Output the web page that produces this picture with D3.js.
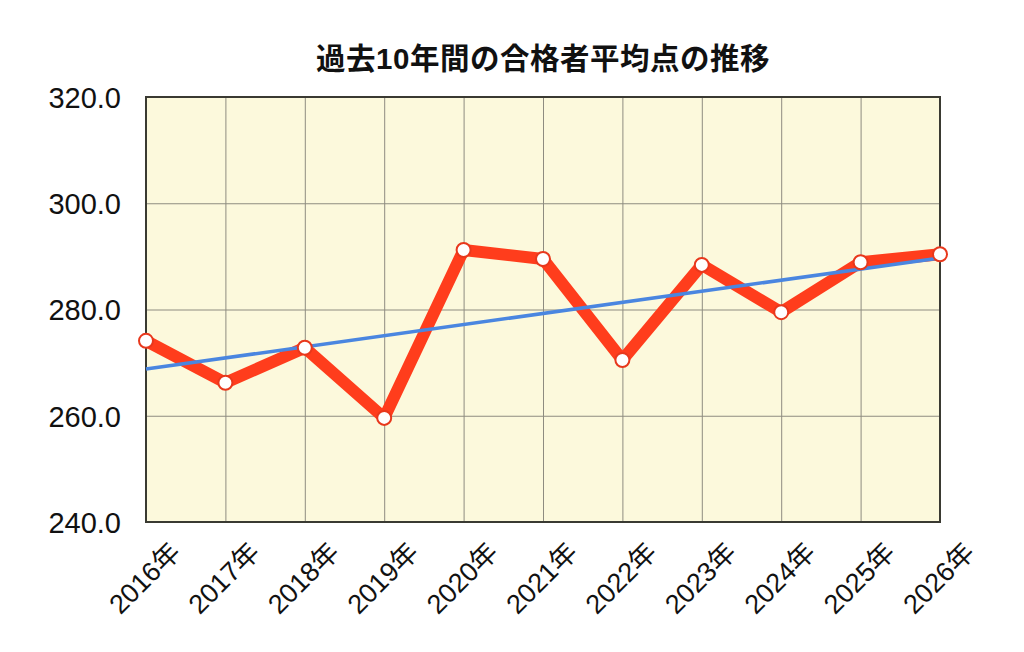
<!DOCTYPE html>
<html><head><meta charset="utf-8">
<script src="https://cdn.jsdelivr.net/npm/d3@7"></script>
<style>
html,body{margin:0;padding:0;background:#fff;}
svg{display:block;}
</style>
</head><body>
<script>
const title = "過去10年間の合格者平均点の推移";
const years = ["2016年","2017年","2018年","2019年","2020年","2021年","2022年","2023年","2024年","2025年","2026年"];
const scores = [274.1, 266.2, 272.8, 259.6, 291.2, 289.5, 270.5, 288.4, 279.5, 288.9, 290.4];
const trendYears = ["2016年","2026年"];
const trendValues = [268.8, 289.7];
const yTicks = [240, 260, 280, 300, 320];

const W = 1024, H = 652;
const m = {left:146, right:84, top:97, bottom:130};
const svg = d3.select("body").append("svg").attr("width", W).attr("height", H);
const font = "'Liberation Sans','Noto Sans CJK JP',sans-serif";

const x = d3.scalePoint().domain(years).range([m.left, W - m.right]);
const y = d3.scaleLinear().domain([240, 320]).range([H - m.bottom, m.top]);

// background
svg.append("rect").attr("x", m.left).attr("y", m.top)
  .attr("width", W - m.right - m.left).attr("height", H - m.bottom - m.top)
  .attr("fill", "#fcf9dc");

// grid
const gx = svg.append("g").attr("transform", `translate(0,${H - m.bottom})`)
  .call(d3.axisBottom(x).tickSize(-(H - m.bottom - m.top)).tickFormat(""));
gx.select(".domain").remove();
gx.selectAll("line").attr("stroke", "#8e8c80").attr("stroke-width", 1);

const gy = svg.append("g").attr("transform", `translate(${m.left},0)`)
  .call(d3.axisLeft(y).tickValues(yTicks).tickSize(-(W - m.right - m.left)).tickFormat(d => d.toFixed(1)).tickPadding(25));
gy.select(".domain").remove();
gy.selectAll("line").attr("stroke", "#8e8c80").attr("stroke-width", 1);
gy.selectAll("text").attr("font-family", font).attr("font-size", 29).attr("fill", "#111").attr("dy", "0.36em");

// border
svg.append("rect").attr("x", m.left).attr("y", m.top)
  .attr("width", W - m.right - m.left).attr("height", H - m.bottom - m.top)
  .attr("fill", "none").attr("stroke", "#3a3a32").attr("stroke-width", 2);

// x labels
svg.append("g").selectAll("text").data(years).join("text")
  .attr("transform", d => `translate(${x(d) + 36},${H - m.bottom + 32}) rotate(-45)`)
  .attr("text-anchor", "end")
  .attr("font-family", font).attr("font-size", 27).attr("fill", "#111")
  .text(d => d);

// red line
const line = d3.line().x((d, i) => x(years[i])).y(d => y(d));
svg.append("path").datum(scores).attr("d", line)
  .attr("fill", "none").attr("stroke", "#ff3d1c").attr("stroke-width", 12)
  .attr("stroke-linejoin", "round").attr("stroke-linecap", "round");

// trend line
const tline = d3.line().x((d, i) => x(trendYears[i])).y(d => y(d));
svg.append("path").datum(trendValues).attr("d", tline)
  .attr("fill", "none").attr("stroke", "#4a86e0").attr("stroke-width", 3.5);

// markers
svg.append("g").selectAll("circle").data(scores).join("circle")
  .attr("cx", (d, i) => x(years[i])).attr("cy", d => y(d)).attr("r", 7)
  .attr("fill", "#fff").attr("stroke", "#e8381c").attr("stroke-width", 2);

// title
svg.append("text").attr("x", (m.left + W - m.right) / 2).attr("y", 69)
  .attr("text-anchor", "middle").attr("font-family", font)
  .attr("font-size", 29.5).attr("font-weight", "bold").attr("fill", "#111")
  .attr("letter-spacing", 0.5)
  .text(title);
</script>
</body></html>
